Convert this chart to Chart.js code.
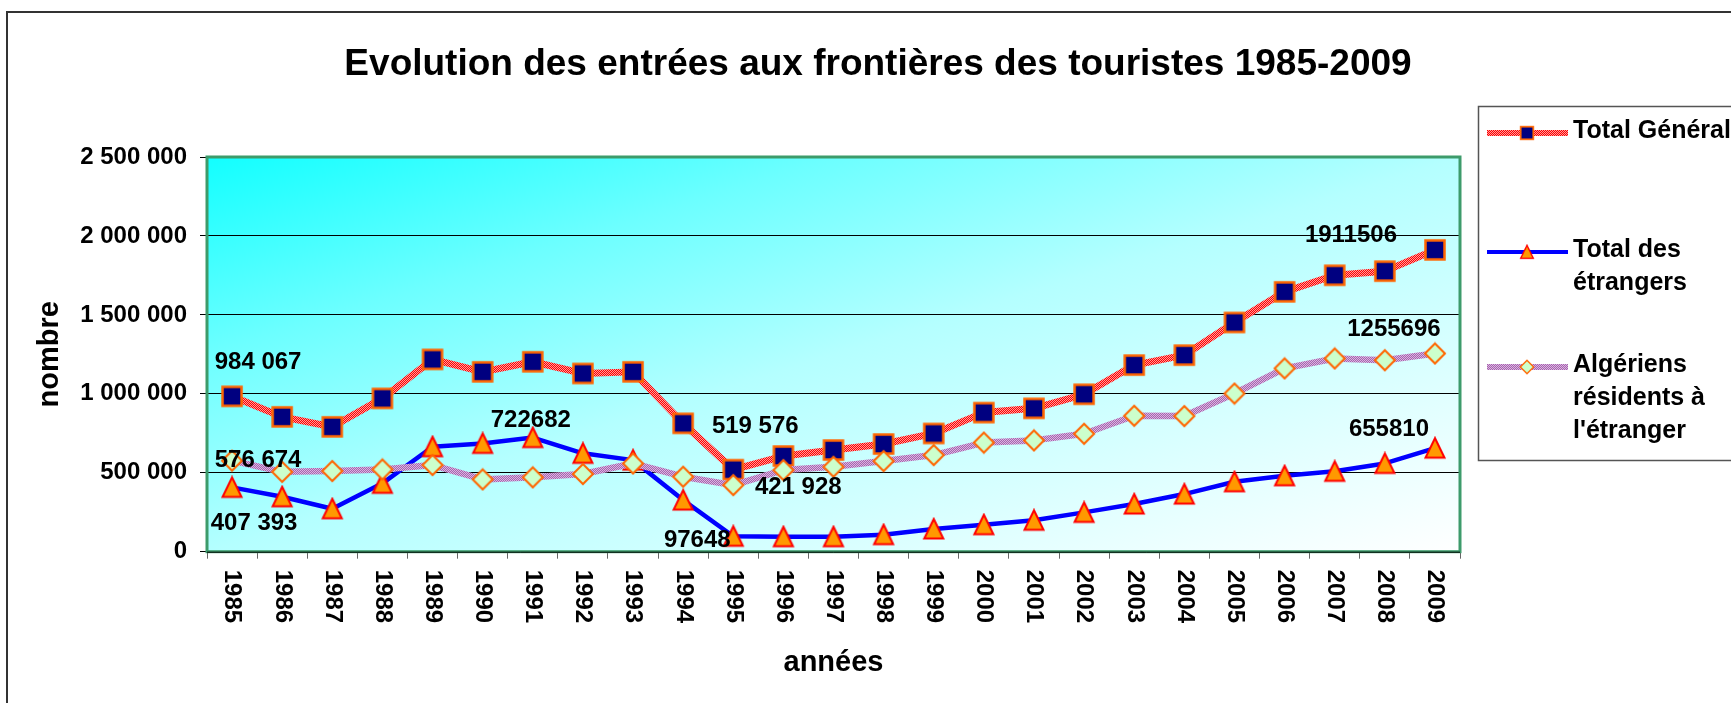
<!DOCTYPE html>
<html>
<head>
<meta charset="utf-8">
<title>Evolution des entrées aux frontières des touristes 1985-2009</title>
<script src="https://cdn.jsdelivr.net/npm/chart.js@4.4.1/dist/chart.umd.min.js"></script>
<style>
  html, body { margin: 0; padding: 0; background: #fff; overflow: hidden; }
  #wrap { width: 1731px; height: 703px; position: relative; }
</style>
</head>
<body>
<div id="wrap"><canvas id="myChart"></canvas></div>
<script>
// data
var years = ['1985', '1986', '1987', '1988', '1989', '1990', '1991', '1992', '1993', '1994', '1995', '1996', '1997',
             '1998', '1999', '2000', '2001', '2002', '2003', '2004', '2005', '2006', '2007', '2008', '2009'];
var totalGeneral = [984067, 854000, 791000, 971000, 1218000, 1139000, 1203000, 1129000, 1139000, 813000, 519576, 606000, 644000,
                    682000, 749000, 881000, 908000, 997000, 1182000, 1245000, 1452000, 1646000, 1751000, 1777000, 1911506];
var totalEtrangers = [407393, 348000, 272000, 433000, 665000, 686000, 722682, 623000, 580000, 327000, 97648, 95000, 95000,
                      108000, 144000, 171000, 199000, 249000, 302000, 365000, 443000, 481000, 509000, 559000, 655810];
var algeriensEtranger = [576674, 506000, 511000, 521000, 549000, 458000, 471000, 492000, 559000, 475000, 421928, 517000, 538000,
                         574000, 612000, 691000, 705000, 747000, 861000, 859000, 1002000, 1161000, 1224000, 1213000, 1255696];
var seriesNames = ['Total Général', 'Total des étrangers', "Algériens résidents à l'étranger"];
var legendLines = [['Total Général'], ['Total des', 'étrangers'], ['Algériens', 'résidents à', "l'étranger"]];
var yTicks = [0, 500000, 1000000, 1500000, 2000000, 2500000];
var chartTitle = 'Evolution des entrées aux frontières des touristes 1985-2009';
var xTitle = 'années';
var yTitle = 'nombre';

// which points carry a value label (ds = dataset, i = year index)
var dataLabels = [
  { ds: 0, i: 0, dx: 26, dy: -27, sep: true },
  { ds: 0, i: 10, dx: 22, dy: -37, sep: true },
  { ds: 0, i: 24, dx: -84, dy: -8, sep: false },
  { ds: 1, i: 0, dx: 22, dy: 43, sep: true },
  { ds: 1, i: 6, dx: -2, dy: -11, sep: false },
  { ds: 1, i: 10, dx: -36, dy: 11, sep: false },
  { ds: 1, i: 24, dx: -46, dy: -12, sep: false },
  { ds: 2, i: 0, dx: 26, dy: 6, sep: true },
  { ds: 2, i: 10, dx: 65, dy: 9, sep: true },
  { ds: 2, i: 24, dx: -41, dy: -17, sep: false }
];

var FONT = '"Liberation Sans", Arial, sans-serif';
var canvas = document.getElementById('myChart');
var mainCtx = canvas.getContext('2d');

function fmt(v, sep) {
  var s = String(Math.round(v));
  if (!sep) return s;
  return s.replace(/\B(?=(\d{3})+(?!\d))/g, ' ');
}

// two tone dotted line like the excel "pattern" lines
function hatch(c1, c2) {
  var p = document.createElement('canvas');
  p.width = 2; p.height = 2;
  var g = p.getContext('2d');
  g.fillStyle = c1; g.fillRect(0, 0, 2, 2);
  g.fillStyle = c2; g.fillRect(0, 0, 1, 1); g.fillRect(1, 1, 1, 1);
  return mainCtx.createPattern(p, 'repeat');
}

function marker(type) {
  var c = document.createElement('canvas');
  c.width = 24; c.height = 24;
  var g = c.getContext('2d');
  g.beginPath();
  if (type == 'square') {
    g.rect(2.5, 2.5, 19, 19);
    g.fillStyle = '#000080'; g.strokeStyle = '#FF6600'; g.lineWidth = 2.5;
  } else if (type == 'triangle') {
    g.moveTo(12, 2); g.lineTo(21.5, 21.5); g.lineTo(2.5, 21.5); g.closePath();
    g.fillStyle = '#FF9900'; g.strokeStyle = '#FF0000'; g.lineWidth = 2;
  } else {
    g.moveTo(12, 2); g.lineTo(22, 12); g.lineTo(12, 22); g.lineTo(2, 12); g.closePath();
    g.fillStyle = '#CCFFCC'; g.strokeStyle = '#FF6600'; g.lineWidth = 2;
  }
  g.fill(); g.stroke();
  return c;
}

var decorPlugin = {
  id: 'decor',
  beforeDraw: function (chart) {
    var a = chart.chartArea, ctx = chart.ctx;
    ctx.save();
    ctx.translate(a.left, a.top);
    ctx.scale(a.right - a.left, a.bottom - a.top);
    var g = ctx.createLinearGradient(0, 0, 1, 1);
    g.addColorStop(0, '#12FFFF');
    g.addColorStop(0.25, '#6CFFFF');
    g.addColorStop(0.5, '#B4FFFF');
    g.addColorStop(1, '#FFFFFF');
    ctx.fillStyle = g;
    ctx.fillRect(0, 0, 1, 1);
    ctx.restore();
  },
  beforeDatasetsDraw: function (chart) {
    var a = chart.chartArea, ctx = chart.ctx;
    ctx.save();
    ctx.strokeStyle = '#3D9B6B';
    ctx.lineWidth = 3;
    ctx.strokeRect(a.left, a.top, a.right - a.left, a.bottom - a.top);
    ctx.strokeStyle = '#000';
    ctx.lineWidth = 1;
    ctx.beginPath(); ctx.moveTo(a.left, a.bottom + 0.5); ctx.lineTo(a.right, a.bottom + 0.5); ctx.stroke();
    ctx.restore();
  },
  afterDatasetsDraw: function (chart) {
    var ctx = chart.ctx;
    ctx.save();
    ctx.font = 'bold 24px ' + FONT;
    ctx.fillStyle = '#000';
    ctx.textAlign = 'center';
    ctx.textBaseline = 'alphabetic';
    dataLabels.forEach(function (l) {
      var pt = chart.getDatasetMeta(l.ds).data[l.i];
      var v = chart.data.datasets[l.ds].data[l.i];
      ctx.fillText(fmt(v, l.sep), pt.x + l.dx, pt.y + l.dy);
    });
    ctx.restore();
  },
  afterDraw: function (chart) {
    var ctx = chart.ctx, a = chart.chartArea, xs = chart.scales.x;
    ctx.save();
    // outer frame
    ctx.strokeStyle = '#333';
    ctx.lineWidth = 2;
    ctx.strokeRect(7, 12, 1800, 800);

    // title
    ctx.fillStyle = '#000';
    ctx.font = 'bold 37px ' + FONT;
    ctx.textAlign = 'center';
    ctx.textBaseline = 'alphabetic';
    ctx.fillText(chartTitle, 878, 75);

    // year labels, turned clockwise
    ctx.font = 'bold 24px ' + FONT;
    ctx.textAlign = 'left';
    ctx.textBaseline = 'middle';
    for (var i = 0; i < years.length; i++) {
      var px = xs.getPixelForValue(i);
      ctx.save();
      ctx.translate(px, a.bottom + 18);
      ctx.rotate(Math.PI / 2);
      ctx.fillText(years[i], 0, 0);
      ctx.restore();
    }

    // legend
    ctx.strokeStyle = '#555';
    ctx.lineWidth = 1.5;
    ctx.strokeRect(1478.5, 106.5, 400, 354);
    var rows = [133, 252, 367];
    ctx.font = 'bold 25px ' + FONT;
    chart.data.datasets.forEach(function (ds, k) {
      var y = rows[k];
      ctx.strokeStyle = ds.borderColor;
      ctx.lineWidth = k == 1 ? 4 : 6;
      ctx.beginPath(); ctx.moveTo(1487, y); ctx.lineTo(1568, y); ctx.stroke();
      var m = ds.pointStyle;
      ctx.drawImage(m, 1527 - 8, y - 8, 16, 16);
      legendLines[k].forEach(function (t, j) {
        ctx.fillText(t, 1573, y - 2 + j * 33);
      });
    });
    ctx.restore();
  }
};

var ctx = $ = null;
var chart = new Chart(canvas, {
  type: 'line',
  data: {
    labels: years,
    datasets: [
      {
        label: seriesNames[0],
        data: totalGeneral,
        borderColor: hatch('#FF0000', '#FF9C9C'),
        borderWidth: 7,
        borderJoinStyle: 'round',
        pointStyle: marker('square'),
        pointRadius: 12,
        tension: 0,
        fill: false,
        order: 3
      },
      {
        label: seriesNames[1],
        data: totalEtrangers,
        borderColor: '#0000FF',
        borderWidth: 4.5,
        borderJoinStyle: 'round',
        pointStyle: marker('triangle'),
        pointRadius: 12,
        tension: 0,
        fill: false,
        order: 2
      },
      {
        label: seriesNames[2],
        data: algeriensEtranger,
        borderColor: hatch('#A468AC', '#DDB0E2'),
        borderWidth: 6.5,
        borderJoinStyle: 'round',
        pointStyle: marker('diamond'),
        pointRadius: 12,
        tension: 0,
        fill: false,
        order: 1
      }
    ]
  },
  options: {
    responsive: true,
    maintainAspectRatio: false,
    animation: false,
    devicePixelRatio: 1,
    events: [],
    layout: { padding: { left: 7, top: 157, right: 271, bottom: 0 } },
    plugins: {
      legend: { display: false },
      title: { display: false },
      tooltip: { enabled: false }
    },
    scales: {
      x: {
        type: 'category',
        offset: true,
        grid: { offset: true, drawOnChartArea: false, drawTicks: true, tickLength: 7, color: '#666', lineWidth: 1 },
        border: { display: true, color: '#000', width: 1 },
        ticks: { display: false },
        title: {
          display: true,
          text: xTitle,
          color: '#000',
          font: { family: FONT, size: 29, weight: 'bold' },
          padding: { top: 0, bottom: 23 }
        },
        afterFit: function (s) { s.height = 151.3; }
      },
      y: {
        min: 0,
        max: 2500000,
        afterBuildTicks: function (s) {
          s.ticks = yTicks.map(function (v) { return { value: v }; });
        },
        grid: { color: '#000', lineWidth: 1, tickLength: 7, drawTicks: true },
        border: { display: true, color: '#000' },
        ticks: {
          padding: 13,
          color: '#000',
          font: { family: FONT, size: 24, weight: 'bold' },
          callback: function (v) { return fmt(v, true); }
        },
        title: {
          display: true,
          text: yTitle,
          color: '#000',
          font: { family: FONT, size: 29, weight: 'bold' },
          padding: { top: 26, bottom: 0 }
        },
        afterFit: function (s) { s.width = 200; }
      }
    }
  },
  plugins: [decorPlugin]
});
</script>
</body>
</html>
